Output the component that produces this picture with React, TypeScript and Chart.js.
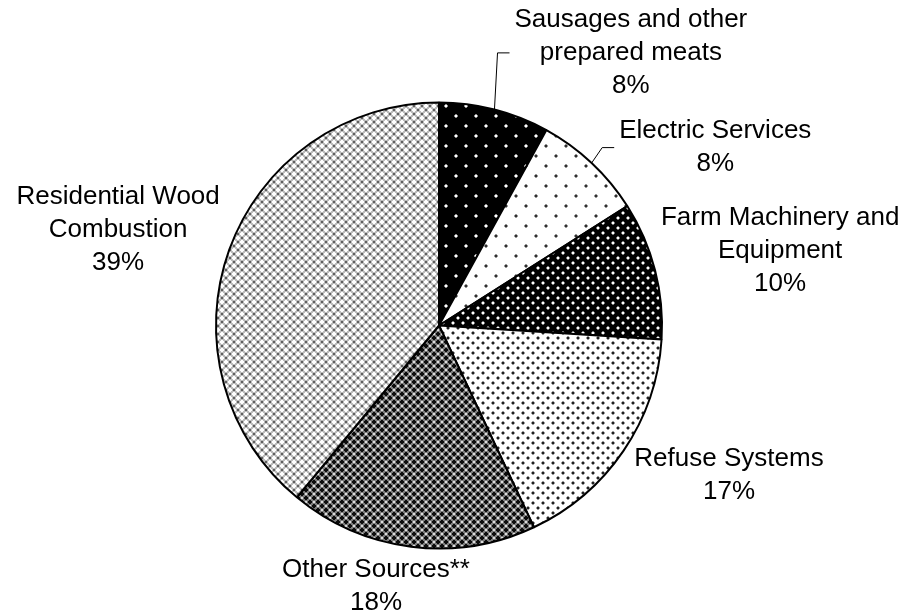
import React, { useEffect, useRef } from "react";
import { Chart, registerables } from "chart.js";

Chart.register(...registerables);

// ---- data ----
const categories = [
  "Sausages and other\nprepared meats",
  "Electric Services",
  "Farm Machinery and\nEquipment",
  "Refuse Systems",
  "Other Sources**",
  "Residential Wood\nCombustion",
];
const values = [8, 8, 10, 17, 18, 39];
const percentLabels = values.map((v) => `${v}%`);

// ---- layout / style ----
const W = 909;
const H = 613;
const FONT = '26px "Liberation Sans", Arial, sans-serif';
const LINE_H = 33;
const GAP = 10;
const nudges: [number, number][] = [
  [105, 1],
  [51, 16],
  [0, -4],
  [19, 0],
  [-22, -3],
  [-6, 0],
];
const leaders = [true, true, false, false, false, false];

function tile(size: number, draw: (c: CanvasRenderingContext2D) => void): CanvasPattern {
  const cv = document.createElement("canvas");
  cv.width = size;
  cv.height = size;
  const c = cv.getContext("2d")!;
  draw(c);
  const tmp = document.createElement("canvas").getContext("2d")!;
  return tmp.createPattern(cv, "repeat")!;
}

function dotPattern(period: number, bg: string, halo: string, core: string): CanvasPattern {
  return tile(period, (c) => {
    c.fillStyle = bg;
    c.fillRect(0, 0, period, period);
    const pts = [
      [Math.floor(period / 4), Math.floor(period / 4)],
      [Math.floor((3 * period) / 4), Math.floor((3 * period) / 4)],
    ];
    for (const [x, y] of pts) {
      c.fillStyle = halo;
      c.fillRect(x - 1, y, 4, 2);
      c.fillRect(x, y - 1, 2, 4);
      c.fillStyle = core;
      c.fillRect(x, y, 2, 2);
    }
  });
}

function crossPattern(bg: string, cross: string, spot: string): CanvasPattern {
  const p = 8;
  return tile(p, (c) => {
    c.fillStyle = bg;
    c.fillRect(0, 0, p, p);
    c.fillStyle = cross;
    for (const [x, y] of [
      [2, 2],
      [6, 6],
    ]) {
      c.fillRect(x - 2, y - 1, 4, 2);
      c.fillRect(x - 1, y - 2, 2, 4);
    }
    c.fillStyle = spot;
    c.fillRect(5, 1, 2, 2);
    c.fillRect(1, 5, 2, 2);
  });
}

export default function App() {
  const ref = useRef<HTMLCanvasElement | null>(null);

  useEffect(() => {
    document.body.style.margin = "0";
    const canvas = ref.current!;
    const patterns = [
      dotPattern(20, "#000000", "#8a8a8a", "#ffffff"),
      dotPattern(20, "#ffffff", "#9a9a9a", "#303030"),
      dotPattern(10, "#000000", "#707070", "#ffffff"),
      dotPattern(10, "#ffffff", "#a0a0a0", "#202020"),
      crossPattern("#7c7c7c", "#0c0c0c", "#dcdcdc"),
      crossPattern("#bcbcbc", "#ffffff", "#606060"),
    ];

    const labelPlugin = {
      id: "pieLabels",
      afterDraw(chart: any) {
        const ctx: CanvasRenderingContext2D = chart.ctx;
        const meta = chart.getDatasetMeta(0);
        ctx.save();
        ctx.font = FONT;
        ctx.fillStyle = "#000";
        ctx.textAlign = "center";
        ctx.textBaseline = "middle";
        meta.data.forEach((arc: any, i: number) => {
          const { x, y, startAngle, endAngle, outerRadius } = arc.getProps(
            ["x", "y", "startAngle", "endAngle", "outerRadius"],
            true
          );
          const mid = (startAngle + endAngle) / 2;
          const dx = Math.cos(mid);
          const dy = Math.sin(mid);
          const lines = [...categories[i].split("\n"), percentLabels[i]];
          const w = Math.max(...lines.map((l) => ctx.measureText(l).width));
          const h = lines.length * LINE_H;
          const ax = x + dx * (outerRadius + GAP);
          const ay = y + dy * (outerRadius + GAP);
          const cx = ax + (dx * w) / 2 + nudges[i][0];
          const cy = ay + (dy * h) / 2 + nudges[i][1];
          lines.forEach((l, k) => ctx.fillText(l, cx, cy - h / 2 + LINE_H * (k + 0.5)));
          if (leaders[i]) {
            const left = cx - w / 2;
            ctx.beginPath();
            ctx.moveTo(x + dx * outerRadius, y + dy * outerRadius);
            ctx.lineTo(left - 17, cy);
            ctx.lineTo(left - 5, cy);
            ctx.lineWidth = 1;
            ctx.strokeStyle = "#000";
            ctx.stroke();
          }
        });
        ctx.restore();
      },
    };

    const chart = new Chart(canvas, {
      type: "pie",
      data: {
        labels: categories,
        datasets: [
          {
            data: values,
            backgroundColor: patterns as any,
            borderColor: "#000000",
            borderWidth: 2,
          },
        ],
      },
      options: {
        responsive: false,
        animation: false,
        layout: { padding: { left: 215, right: 246, top: 101, bottom: 63 } },
        plugins: {
          legend: { display: false },
          tooltip: { enabled: false },
        },
      },
      plugins: [labelPlugin],
    });
    return () => chart.destroy();
  }, []);

  return (
    <div style={{ width: W, height: H, background: "#fff" }}>
      <canvas ref={ref} width={W} height={H} style={{ display: "block" }} />
    </div>
  );
}
